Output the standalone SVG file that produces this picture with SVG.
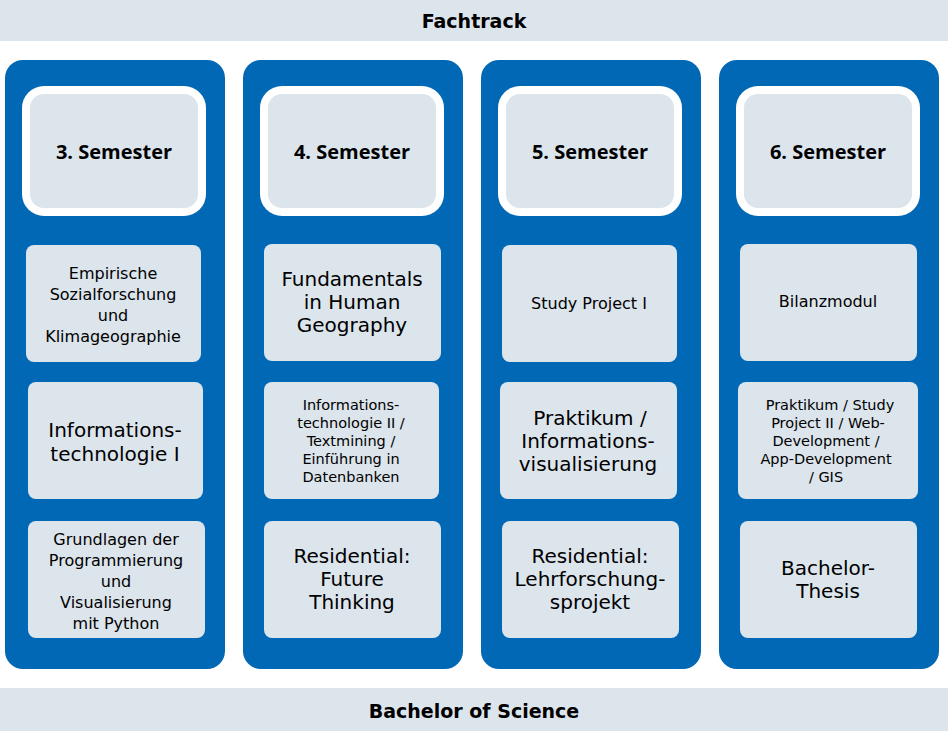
<svg xmlns="http://www.w3.org/2000/svg" width="948" height="737" viewBox="0 0 948 737">
<style>
.bar{fill:#dce4ec}
.col{fill:#0068b4}
.hw{fill:#fff}
.bx{fill:#dce4ec}
.t{font-family:"DejaVu Sans",Verdana,sans-serif;fill:#000;text-anchor:middle}
.h{font-family:"Open Sans","Liberation Sans",sans-serif;font-weight:bold;font-size:20px;text-anchor:middle;fill:#000}
.b{font-family:"DejaVu Sans",Verdana,sans-serif;font-weight:bold;font-size:19px;text-anchor:middle;fill:#000}
.s16{font-size:16px}.s20{font-size:20px}.s14{font-size:14.5px}
</style>
<rect width="948" height="737" fill="#fff"/>
<g id="top"><rect class="bar" x="0" y="0" width="948" height="41"/><text class="b" x="474" y="28">Fachtrack</text></g>
<g id="bottom"><rect class="bar" x="0" y="688" width="948" height="43"/><text class="b" x="474" y="718">Bachelor of Science</text></g>
<g id="col3">
<rect class="col" x="5" y="60" width="220" height="609" rx="18"/>
<rect class="hw" x="22" y="86" width="184" height="130" rx="22"/><rect class="bx" x="30" y="94" width="168" height="114" rx="14"/>
<text class="h" x="114" y="159">3. Semester</text>
<rect class="bx" x="26" y="245" width="175" height="117" rx="8"/>
<text class="t s16"><tspan x="113" y="279">Empirische</tspan><tspan x="113" y="300">Sozialforschung</tspan><tspan x="113" y="321">und</tspan><tspan x="113" y="342">Klimageographie</tspan></text>
<rect class="bx" x="28" y="382" width="175" height="117" rx="8"/>
<text class="t s20"><tspan x="115" y="437">Informations-</tspan><tspan x="115" y="461">technologie I</tspan></text>
<rect class="bx" x="28" y="521" width="177" height="117" rx="8"/>
<text class="t s16"><tspan x="116" y="545">Grundlagen der</tspan><tspan x="116" y="566">Programmierung</tspan><tspan x="116" y="587">und</tspan><tspan x="116" y="608">Visualisierung</tspan><tspan x="116" y="629">mit Python</tspan></text>
</g>
<g id="col4">
<rect class="col" x="243" y="60" width="220" height="609" rx="18"/>
<rect class="hw" x="260" y="86" width="184" height="130" rx="22"/><rect class="bx" x="268" y="94" width="168" height="114" rx="14"/>
<text class="h" x="352" y="159">4. Semester</text>
<rect class="bx" x="264" y="244" width="177" height="117" rx="8"/>
<text class="t s20"><tspan x="352" y="286">Fundamentals</tspan><tspan x="352" y="309">in Human</tspan><tspan x="352" y="332">Geography</tspan></text>
<rect class="bx" x="264" y="382" width="175" height="117" rx="8"/>
<text class="t s14"><tspan x="351" y="410">Informations-</tspan><tspan x="351" y="428">technologie II /</tspan><tspan x="351" y="446">Textmining /</tspan><tspan x="351" y="464">Einführung in</tspan><tspan x="351" y="482">Datenbanken</tspan></text>
<rect class="bx" x="264" y="521" width="177" height="117" rx="8"/>
<text class="t s20"><tspan x="352" y="563">Residential:</tspan><tspan x="352" y="586">Future</tspan><tspan x="352" y="609">Thinking</tspan></text>
</g>
<g id="col5">
<rect class="col" x="481" y="60" width="220" height="609" rx="18"/>
<rect class="hw" x="498" y="86" width="184" height="130" rx="22"/><rect class="bx" x="506" y="94" width="168" height="114" rx="14"/>
<text class="h" x="590" y="159">5. Semester</text>
<rect class="bx" x="502" y="245" width="175" height="117" rx="8"/>
<text class="t s16" x="589" y="309">Study Project I</text>
<rect class="bx" x="500" y="382" width="177" height="117" rx="8"/>
<text class="t s20"><tspan x="590" y="425">Praktikum /</tspan><tspan x="588" y="448">Informations-</tspan><tspan x="588" y="471">visualisierung</tspan></text>
<rect class="bx" x="502" y="521" width="177" height="117" rx="8"/>
<text class="t s20"><tspan x="590" y="563">Residential:</tspan><tspan x="590" y="586">Lehrforschung-</tspan><tspan x="590" y="609">sprojekt</tspan></text>
</g>
<g id="col6">
<rect class="col" x="719" y="60" width="220" height="609" rx="18"/>
<rect class="hw" x="736" y="86" width="184" height="130" rx="22"/><rect class="bx" x="744" y="94" width="168" height="114" rx="14"/>
<text class="h" x="828" y="159">6. Semester</text>
<rect class="bx" x="740" y="244" width="177" height="117" rx="8"/>
<text class="t s16" x="828" y="307">Bilanzmodul</text>
<rect class="bx" x="738" y="382" width="180" height="117" rx="8"/>
<text class="t s14"><tspan x="830" y="410">Praktikum / Study</tspan><tspan x="828" y="428">Project II / Web-</tspan><tspan x="826" y="446">Development /</tspan><tspan x="826" y="464">App-Development</tspan><tspan x="826" y="482">/ GIS</tspan></text>
<rect class="bx" x="740" y="521" width="177" height="117" rx="8"/>
<text class="t s20"><tspan x="828" y="575">Bachelor-</tspan><tspan x="828" y="598">Thesis</tspan></text>
</g>
</svg>
